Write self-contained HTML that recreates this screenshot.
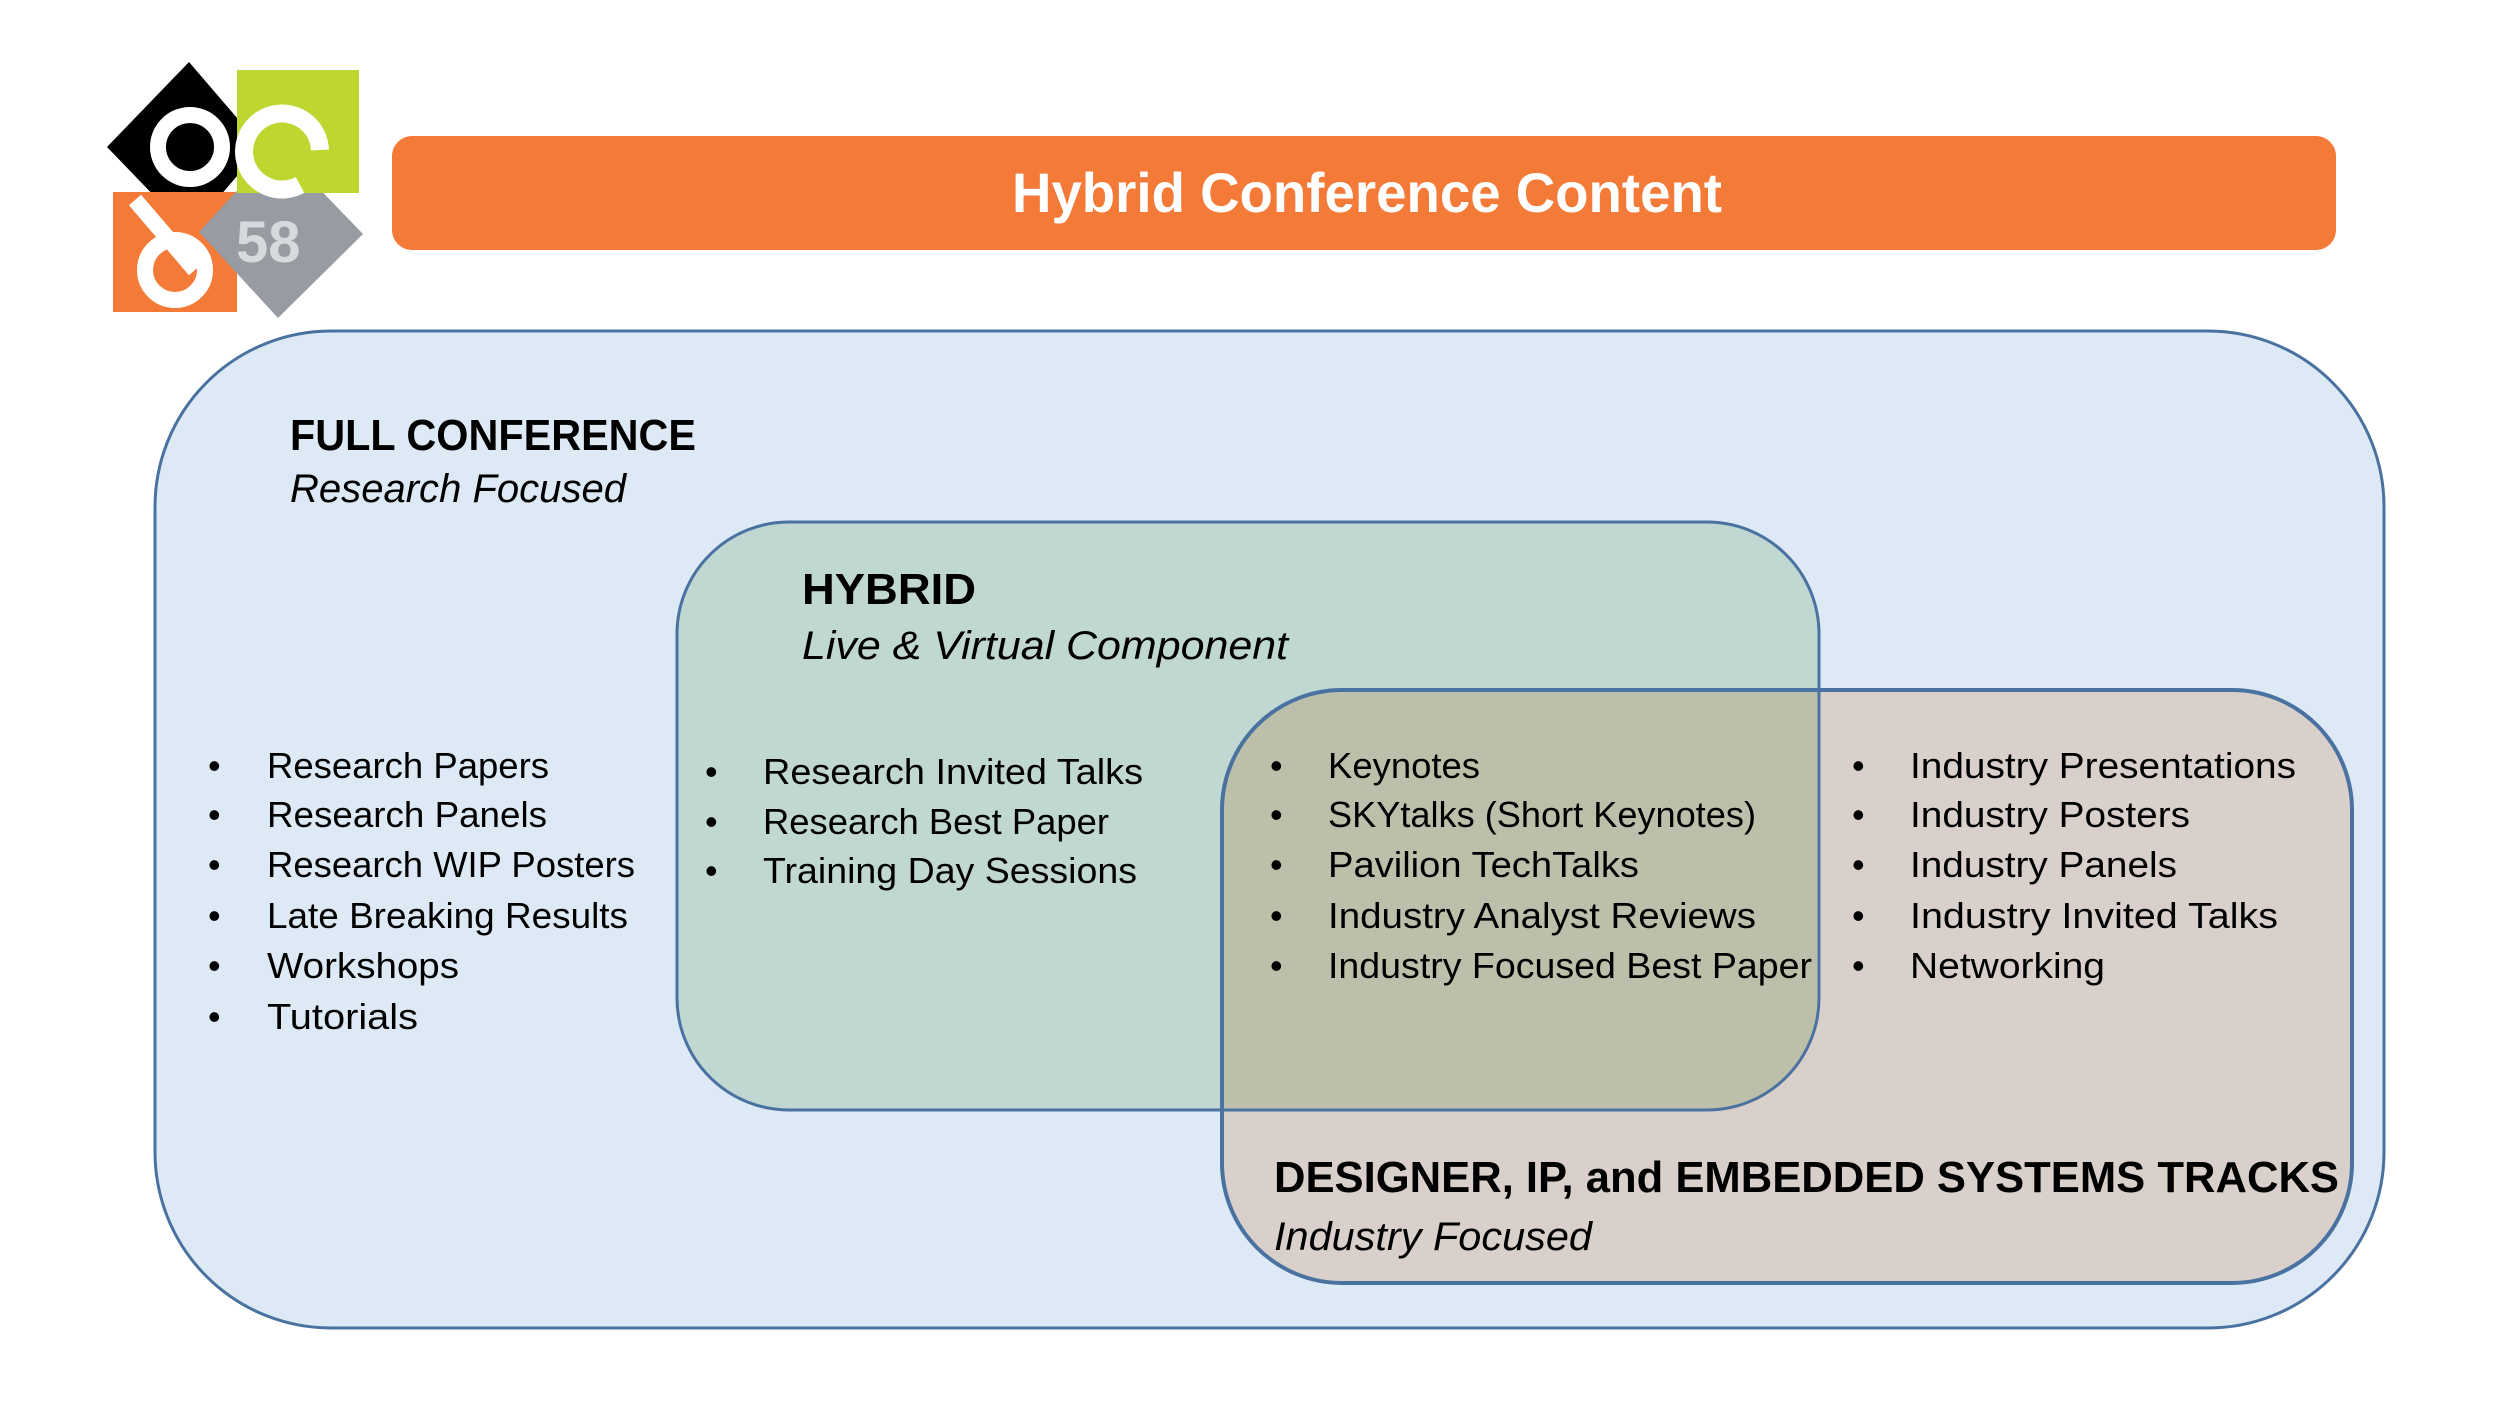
<!DOCTYPE html>
<html><head><meta charset="utf-8"><style>
html,body{margin:0;padding:0;background:#fff;}
svg{display:block;}
text{font-family:"Liberation Sans",sans-serif;fill:#000;}
.b{font-size:36px;}
.h{font-size:44px;font-weight:bold;}
.i{font-size:40px;font-style:italic;}
</style></head><body>
<svg width="2500" height="1406" viewBox="0 0 2500 1406" xmlns="http://www.w3.org/2000/svg">
<defs>
<clipPath id="dclip"><rect x="1222" y="690" width="1130" height="593" rx="120" ry="120"/></clipPath>
</defs>
<!-- logo -->
<polygon points="189,62 107,147 189,232 262,147" fill="#000"/>
<circle cx="190" cy="147" r="32" fill="none" stroke="#fff" stroke-width="16"/>
<rect x="113" y="192" width="124" height="120" fill="#f47a38"/>
<circle cx="175" cy="270" r="30" fill="none" stroke="#fff" stroke-width="16"/>
<line x1="135" y1="200" x2="195" y2="270" stroke="#fff" stroke-width="16"/>
<polygon points="278,146 363,234 278,318 199,232" fill="#979ca3"/>
<rect x="237" y="70" width="122" height="123" fill="#bfd631"/>
<path d="M300 185 A38 38 0 1 1 320 150" fill="none" stroke="#fff" stroke-width="18"/>
<text x="236" y="262" style="font-size:58px;font-weight:bold;fill:#d7d9dc">58</text>
<!-- title bar -->
<rect x="392" y="136" width="1944" height="114" rx="20" ry="20" fill="#f47a38"/>
<text x="1367" y="212" text-anchor="middle" style="font-size:56px;font-weight:bold;fill:#fff" textLength="710" lengthAdjust="spacingAndGlyphs">Hybrid Conference Content</text>
<!-- outer -->
<rect x="155" y="331" width="2229" height="997" rx="176" ry="176" fill="#dde9f5" stroke="#4a72a0" stroke-width="3"/>
<rect x="1222" y="690" width="1130" height="593" rx="120" ry="120" fill="#d9d0cb"/>
<rect x="677" y="522" width="1142" height="588" rx="112" ry="112" fill="#c1d7d2"/>
<rect x="677" y="522" width="1142" height="588" rx="112" ry="112" fill="#bcc0ab" clip-path="url(#dclip)"/>
<rect x="677" y="522" width="1142" height="588" rx="112" ry="112" fill="none" stroke="#4a72a0" stroke-width="3"/>
<rect x="1222" y="690" width="1130" height="593" rx="120" ry="120" fill="none" stroke="#4a72a0" stroke-width="4"/>
<!-- headings -->
<text class="h" x="290" y="450" textLength="406" lengthAdjust="spacingAndGlyphs">FULL CONFERENCE</text>
<text class="i" x="290" y="502" textLength="336" lengthAdjust="spacingAndGlyphs">Research Focused</text>
<text class="h" x="802" y="604" textLength="174" lengthAdjust="spacingAndGlyphs">HYBRID</text>
<text class="i" x="802" y="659" textLength="486" lengthAdjust="spacingAndGlyphs">Live &amp; Virtual Component</text>
<text class="h" x="1274" y="1192" textLength="1065" lengthAdjust="spacingAndGlyphs">DESIGNER, IP, and EMBEDDED SYSTEMS TRACKS</text>
<text class="i" x="1274" y="1250" textLength="318" lengthAdjust="spacingAndGlyphs">Industry Focused</text>
<g class="b">
<text x="208" y="778">•</text><text x="267" y="778" textLength="282" lengthAdjust="spacingAndGlyphs">Research Papers</text>
<text x="208" y="827">•</text><text x="267" y="827" textLength="280" lengthAdjust="spacingAndGlyphs">Research Panels</text>
<text x="208" y="877">•</text><text x="267" y="877" textLength="368" lengthAdjust="spacingAndGlyphs">Research WIP Posters</text>
<text x="208" y="928">•</text><text x="267" y="928" textLength="361" lengthAdjust="spacingAndGlyphs">Late Breaking Results</text>
<text x="208" y="978">•</text><text x="267" y="978" textLength="192" lengthAdjust="spacingAndGlyphs">Workshops</text>
<text x="208" y="1029">•</text><text x="267" y="1029" textLength="151" lengthAdjust="spacingAndGlyphs">Tutorials</text>
</g>
<g class="b">
<text x="705" y="784">•</text><text x="763" y="784" textLength="380" lengthAdjust="spacingAndGlyphs">Research Invited Talks</text>
<text x="705" y="834">•</text><text x="763" y="834" textLength="346" lengthAdjust="spacingAndGlyphs">Research Best Paper</text>
<text x="705" y="883">•</text><text x="763" y="883" textLength="374" lengthAdjust="spacingAndGlyphs">Training Day Sessions</text>
</g>
<g class="b">
<text x="1270" y="778">•</text><text x="1328" y="778" textLength="152" lengthAdjust="spacingAndGlyphs">Keynotes</text>
<text x="1270" y="827">•</text><text x="1328" y="827" textLength="428" lengthAdjust="spacingAndGlyphs">SKYtalks (Short Keynotes)</text>
<text x="1270" y="877">•</text><text x="1328" y="877" textLength="311" lengthAdjust="spacingAndGlyphs">Pavilion TechTalks</text>
<text x="1270" y="928">•</text><text x="1328" y="928" textLength="428" lengthAdjust="spacingAndGlyphs">Industry Analyst Reviews</text>
<text x="1270" y="978">•</text><text x="1328" y="978" textLength="484" lengthAdjust="spacingAndGlyphs">Industry Focused Best Paper</text>
</g>
<g class="b">
<text x="1852" y="778">•</text><text x="1910" y="778" textLength="386" lengthAdjust="spacingAndGlyphs">Industry Presentations</text>
<text x="1852" y="827">•</text><text x="1910" y="827" textLength="280" lengthAdjust="spacingAndGlyphs">Industry Posters</text>
<text x="1852" y="877">•</text><text x="1910" y="877" textLength="267" lengthAdjust="spacingAndGlyphs">Industry Panels</text>
<text x="1852" y="928">•</text><text x="1910" y="928" textLength="368" lengthAdjust="spacingAndGlyphs">Industry Invited Talks</text>
<text x="1852" y="978">•</text><text x="1910" y="978" textLength="195" lengthAdjust="spacingAndGlyphs">Networking</text>
</g>
</svg>
</body></html>
